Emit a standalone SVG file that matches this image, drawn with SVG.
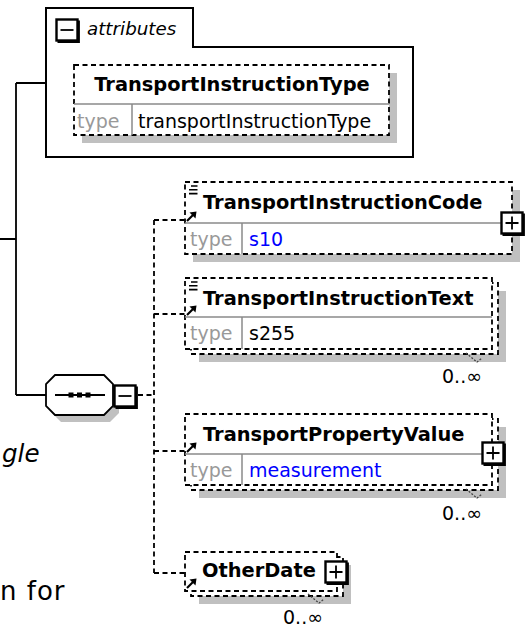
<svg xmlns="http://www.w3.org/2000/svg" width="525" height="628" viewBox="0 0 525 628">
<style>
.box{fill:#fff;stroke:#000;stroke-width:1.8;stroke-dasharray:5 3.5}
.shadow{fill:#c0c0c0}
.div{stroke:#8a8a8a;stroke-width:1.5;fill:none}
.conn{fill:none;stroke:#000;stroke-width:1.8}
.dconn{fill:none;stroke:#000;stroke-width:1.8;stroke-dasharray:5 3.5}
.name{font-family:"DejaVu Sans",Verdana,sans-serif;font-weight:bold;font-size:19.4px;fill:#000}
.reg{font-family:"DejaVu Sans",Verdana,sans-serif;font-size:19px;fill:#000}
.gray{fill:#999}
.blue{fill:#0000ff}
.icon{stroke:#000;stroke-width:1.6;fill:none}
.occ{fill:none;stroke:#444;stroke-width:1.3}
</style>
<defs>
<g id="btn">
<rect x="-10.5" y="-10.5" width="21" height="21" fill="#fff" stroke="#000" stroke-width="2.4"/>
<path d="M11.8,-9.5 V11.8 H-9.5" fill="none" stroke="#000" stroke-width="2.2"/>
</g>
<g id="plus"><use href="#btn"/><path d="M-6.5,0 H6.5 M0,-6.5 V6.5" stroke="#000" stroke-width="1.8"/></g>
<g id="minus"><use href="#btn"/><path d="M-6.5,0 H6.5" stroke="#000" stroke-width="1.8"/></g>
<g id="ref"><path d="M0,0 L6,-6" stroke="#000" stroke-width="2.2" fill="none"/><polygon points="9.5,-9.5 2.5,-8.5 8.5,-2.5" fill="#000"/></g>
<g id="lines"><path class="icon" d="M2,0 H8.5 M0,3.8 H8.5 M0,7.6 H8.5"/></g>
<g id="occmark"><path class="occ" d="M0,0 L11,9 L16,5" stroke-dasharray="2 1.5"/></g>
</defs>

<g id="context-text">
<text x="2" y="462" font-family="DejaVu Sans,Verdana,sans-serif" font-style="italic" font-size="24.6">gle</text>
<text x="0" y="600" font-family="DejaVu Sans,Verdana,sans-serif" font-size="26" letter-spacing="1">n for</text>
</g>

<g id="connectors">
<path class="conn" d="M0,239 H16 M16,83 V395 M16,83 H46 M16,395 H46"/>
<path class="dconn" d="M138,395 H154 M154,220 V573 M154,220 H185 M154,314 H185 M154,451 H185 M154,573 H185"/>
</g>

<g id="attributes">
<path d="M46,157 V8 H193 V47 H413 V157 Z" fill="#fff" stroke="#000" stroke-width="2"/>
<use href="#minus" x="67" y="30"/>
<text x="87" y="35" font-family="DejaVu Sans,Verdana,sans-serif" font-style="italic" font-size="18.3">attributes</text>
</g>

<g id="TransportInstructionType">
<rect class="shadow" x="82" y="73" width="315" height="70"/>
<rect class="box" x="74" y="65" width="315" height="70"/>
<path class="div" d="M74,104 H389 M132,104 V135"/>
<text class="name" x="232" y="91" text-anchor="middle">TransportInstructionType</text>
<text class="reg gray" x="77" y="128">type</text>
<text class="reg" x="138" y="128">transportInstructionType</text>
</g>

<g id="sequence">
<polygon class="shadow" points="55,375 104,375 113,384 113,406 104,415 55,415 46,406 46,384" transform="translate(6,7)"/>
<polygon points="55,375 104,375 113,384 113,406 104,415 55,415 46,406 46,384" fill="#fff" stroke="#000" stroke-width="1.8"/>
<path d="M55,395 H105" stroke="#000" stroke-width="1.8"/>
<rect x="68.5" y="392.5" width="5" height="5" fill="#000"/>
<rect x="77" y="392.5" width="5" height="5" fill="#000"/>
<rect x="85.5" y="392.5" width="5" height="5" fill="#000"/>
<use href="#minus" x="125" y="396"/>
</g>

<g id="TransportInstructionCode">
<rect class="shadow" x="193" y="190" width="327" height="72"/>
<rect class="box" x="185" y="182" width="327" height="72"/>
<path class="div" d="M185,223 H512 M242,223 V254"/>
<use href="#lines" x="189" y="186"/>
<use href="#ref" x="187" y="221"/>
<text class="name" x="203" y="209">TransportInstructionCode</text>
<text class="reg gray" x="190" y="246">type</text>
<text class="reg blue" x="249" y="246">s10</text>
<use href="#plus" x="512" y="223"/>
</g>

<g id="TransportInstructionText">
<rect class="shadow" x="199" y="291" width="307" height="71"/>
<rect class="box" x="191" y="283" width="307" height="71"/>
<rect class="box" x="185" y="278" width="307" height="71"/>
<path class="div" d="M185,317 H492 M242,317 V349"/>
<use href="#lines" x="189" y="282"/>
<use href="#ref" x="187" y="315"/>
<text class="name" x="203" y="305">TransportInstructionText</text>
<text class="reg gray" x="190" y="340">type</text>
<text class="reg" x="249" y="340">s255</text>
<use href="#occmark" x="466" y="353"/>
<text class="reg" x="442" y="383">0..∞</text>
</g>

<g id="TransportPropertyValue">
<rect class="shadow" x="199" y="427" width="307" height="71"/>
<rect class="box" x="191" y="419" width="307" height="71"/>
<rect class="box" x="185" y="414" width="307" height="71"/>
<path class="div" d="M185,454 H492 M242,454 V485"/>
<use href="#ref" x="187" y="452"/>
<text class="name" x="203" y="441">TransportPropertyValue</text>
<text class="reg gray" x="190" y="477">type</text>
<text class="reg blue" x="249" y="477">measurement</text>
<use href="#plus" x="493" y="453"/>
<use href="#occmark" x="466" y="489"/>
<text class="reg" x="442" y="520">0..∞</text>
</g>

<g id="OtherDate">
<rect class="shadow" x="199" y="565" width="152" height="39"/>
<rect class="box" x="191" y="557" width="152" height="39"/>
<rect class="box" x="185" y="552" width="152" height="39"/>
<use href="#ref" x="187" y="588"/>
<text class="name" x="202" y="577" font-size="18.2">OtherDate</text>
<use href="#plus" x="336" y="572"/>
<use href="#occmark" x="308" y="594"/>
<text class="reg" x="283" y="624">0..∞</text>
</g>
</svg>
